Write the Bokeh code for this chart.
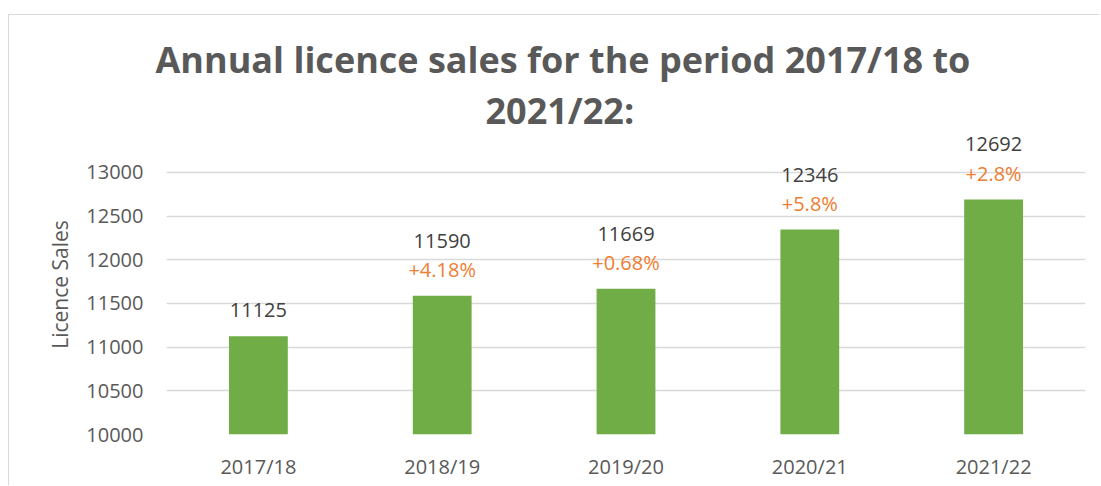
from bokeh.plotting import figure
from bokeh.models import FixedTicker, ColumnDataSource, Range1d, Title
from bokeh.layouts import column
from bokeh.core.properties import value
from bokeh.embed import file_html
from bokeh.resources import INLINE

years = ["2017/18", "2018/19", "2019/20", "2020/21", "2021/22"]
sales = [11125, 11590, 11669, 12346, 12692]
growth = ["", "+4.18%", "+0.68%", "+5.8%", "+2.8%"]
y_ticks = [10000, 10500, 11000, 11500, 12000, 12500, 13000]
title_lines = ["Annual licence sales for the period 2017/18 to", "2021/22:"]

FONT = "Open Sans"

p = figure(x_range=years, y_range=Range1d(10000, 13435), width=1090, height=470,
           title=None, output_backend="svg", toolbar_location=None,
           min_border_left=157, min_border_right=14, min_border_top=119, min_border_bottom=51)
p.outline_line_color = None
p.background_fill_color = "white"
p.border_fill_color = "white"

# second line first (closest to plot), then first line
for txt, off, sd in [(title_lines[1], 319, 0), (title_lines[0], -11, 0)]:
    p.add_layout(Title(text=txt, align="left", offset=off, standoff=sd,
                       text_font=FONT, text_font_size="36px", text_font_style="bold",
                       text_color="#595959"), "above")

src = ColumnDataSource(dict(
    x=years, top=sales, growth=growth,
    num=[str(v) for v in sales],
    num_off=[-26 if g == "" else -55 for g in growth],
))

p.vbar(x="x", top="top", bottom=10000, width=0.32, source=src,
       fill_color="#70AD47", line_color=None)

p.text(x="x", y="top", text="num", y_offset="num_off", source=src,
       text_align="center", text_baseline="middle",
       text_font=value(FONT), text_font_size="20px", text_color="#404040")
p.text(x="x", y="top", text="growth", y_offset=-26, source=src,
       text_align="center", text_baseline="middle",
       text_font=value(FONT), text_font_size="20px", text_color="#ED7D31")

p.yaxis.ticker = FixedTicker(ticks=y_ticks)
p.yaxis.axis_line_color = None
p.yaxis.major_tick_line_color = None
p.yaxis.minor_tick_line_color = None
p.yaxis.major_tick_out = 0
p.yaxis.major_tick_in = 0
p.yaxis.minor_tick_out = 0
p.yaxis.major_label_standoff = 23
p.yaxis.major_label_text_font = FONT
p.yaxis.major_label_text_font_size = "20px"
p.yaxis.major_label_text_color = "#595959"
p.yaxis.axis_label = "Licence Sales"
p.yaxis.axis_label_text_font = FONT
p.yaxis.axis_label_text_font_size = "21px"
p.yaxis.axis_label_text_font_style = "normal"
p.yaxis.axis_label_text_color = "#595959"
p.yaxis.axis_label_standoff = 9

p.xaxis.axis_line_color = None
p.xaxis.major_tick_line_color = None
p.xaxis.minor_tick_line_color = None
p.xaxis.major_tick_out = 0
p.xaxis.major_tick_in = 0
p.xaxis.minor_tick_out = 0
p.xaxis.major_label_standoff = 18
p.xaxis.major_label_text_font = FONT
p.xaxis.major_label_text_font_size = "20px"
p.xaxis.major_label_text_color = "#595959"

p.xgrid.grid_line_color = None
p.ygrid.grid_line_color = "#D9D9D9"
p.ygrid.grid_line_width = 1.5

layout = column(p, margin=(14, 0, 0, 8),
                styles={"border-top": "1px solid #D9D9D9", "border-left": "1px solid #D9D9D9"})

open("out.html", "w").write(file_html(layout, INLINE))
